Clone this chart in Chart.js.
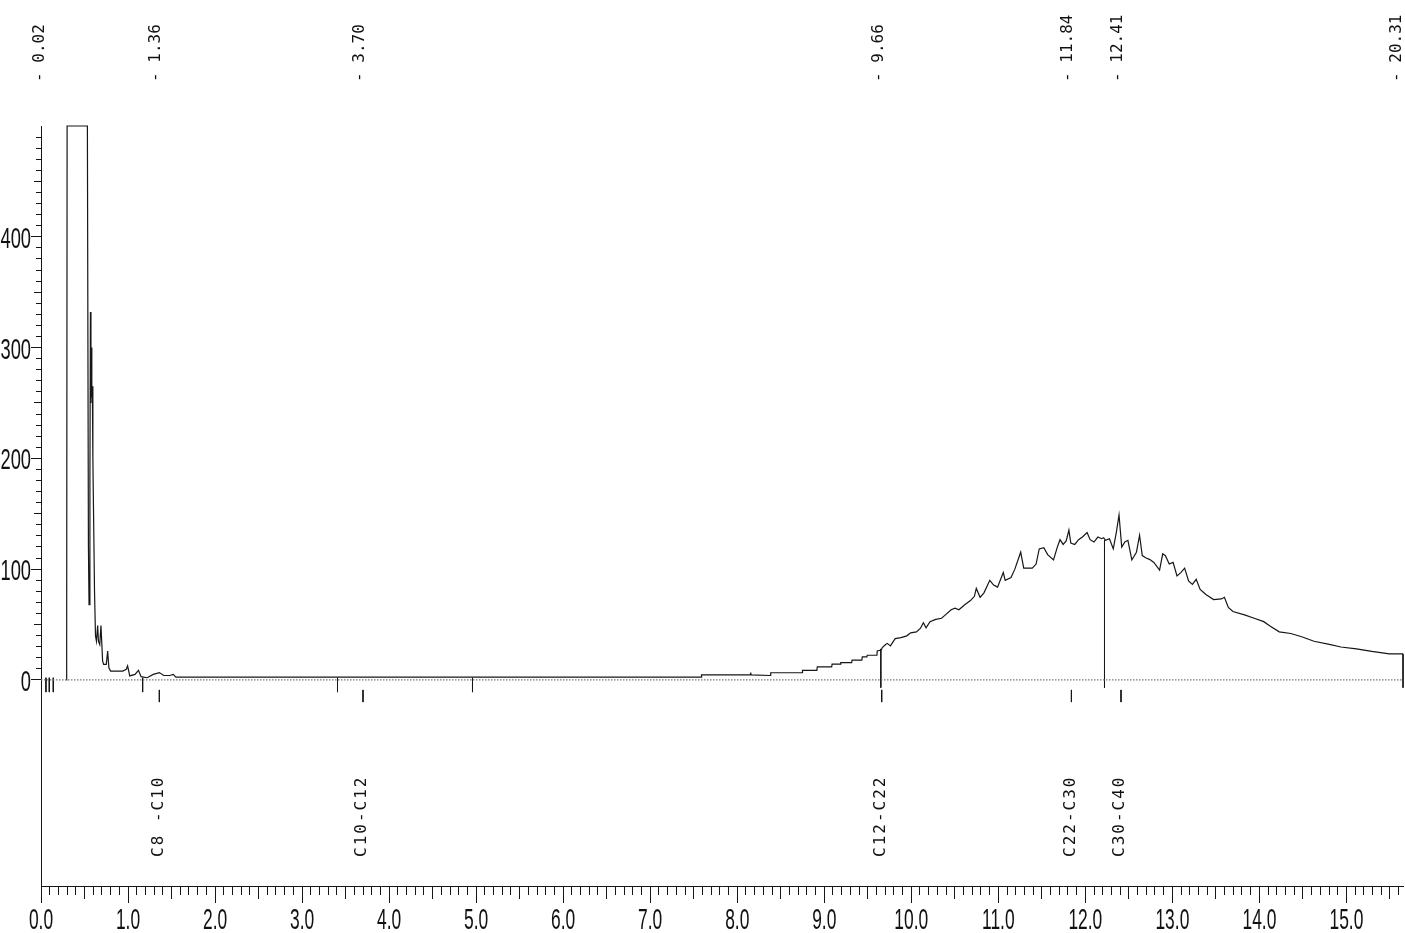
<!DOCTYPE html>
<html><head><meta charset="utf-8">
<script src="https://cdn.jsdelivr.net/npm/chart.js@4.4.1/dist/chart.umd.min.js"></script>
<style>html,body{margin:0;padding:0;background:#fff;}#wrap{width:1405px;height:933px;position:relative;}</style>
</head><body><div id="wrap"><canvas id="c"></canvas></div>
<script>
// ---------- data (retention time in min, signal) ----------
const traceTime = [0.29,0.295,0.30,0.533,0.545,0.552,0.562,0.568,0.574,0.578,0.584,0.590,0.596,0.604,0.615,0.626,0.637,0.651,0.66,0.675,0.689,0.708,0.72,0.75,0.766,0.78,0.80,0.94,0.98,0.995,1.02,1.08,1.12,1.15,1.22,1.29,1.36,1.41,1.48,1.52,1.55,
 7.585,7.59,8.15,8.155,8.16,8.38,8.385,8.745,8.75,8.915,8.92,9.085,9.09,9.185,9.19,9.315,9.32,9.432,9.437,9.49,9.494,9.605,9.609,9.655,9.667,9.705,9.724,9.76,9.815,9.882,9.948,9.993,10.059,10.104,10.139,10.17,10.215,10.281,10.348,10.392,10.458,10.503,10.547,10.614,10.68,10.725,10.747,10.791,10.835,10.902,10.946,10.991,11.057,11.079,11.146,11.19,11.257,11.292,11.39,11.434,11.47,11.523,11.567,11.634,11.678,11.709,11.745,11.78,11.811,11.833,11.878,11.922,11.966,12.02,12.055,12.099,12.144,12.188,12.21,12.232,12.277,12.321,12.357,12.387,12.418,12.454,12.489,12.534,12.587,12.623,12.654,12.698,12.742,12.787,12.853,12.889,12.92,12.964,13.008,13.053,13.097,13.141,13.186,13.23,13.274,13.319,13.385,13.474,13.563,13.598,13.643,13.696,13.829,13.94,14.05,14.117,14.228,14.361,14.494,14.627,14.804,14.937,15.115,15.292,15.492,15.65];
const traceSignal = [0,32,500,500,120,68,180,332,250,300,255,265,200,150,80,40,35,49,35,32,49,17,14,14,26,11,8,8,9.6,12.7,3.6,5,8.7,3,2,5,6.6,4,4,5,2.5,
 2.5,4.5,4.5,6.6,4.5,4,6.5,6.5,8.7,8.7,11.7,11.7,14.2,14.2,15.7,15.7,17.8,17.8,20.8,20.8,22.3,22.3,26.2,27,29.2,32,33,30.7,37.3,38.2,39.8,42.5,43.4,46.5,51.7,47.1,52.6,54.7,55.7,58.7,63.3,64.8,63.3,67.9,71.6,75.5,82.6,74.6,78.6,89.9,85.6,83.8,96.9,89.9,92.4,100,115.3,100.9,100.9,104.6,118.3,119.3,113.1,108.3,119.9,126.6,122.3,125.4,135.2,123.5,122.3,126.6,129,133,126.6,124.5,129,127.5,128.4,126,127.5,118.3,133.6,148.9,119.9,124.5,126,108.3,115.3,130.6,112.2,110.1,108.6,106.1,99.1,113.8,112.2,104.6,106.1,93.9,96.9,100.9,89.3,86.2,90.8,81.7,77.1,72.5,73.1,74.6,65.4,61.8,58.7,55.7,52.6,48.9,43.4,41.9,38.8,34.9,32.1,29.7,28.1,25.7,23.5,23.5];

const dropTimes = [9.65, 12.22, 15.65];        // integration drop lines
const dropTops = [28, 126, 23.5];
const dropBottom = -7;

const eventTimes = [0.057, 0.095, 0.141, 1.168, 3.407, 4.958];  // event marks
const eventTop = 2, eventBottom = -11;

const markerTimes = [0.02, 1.36, 3.70, 9.66, 11.84, 12.41, 20.31];   // top labels
const rangeTimes = [1.36, 3.70, 9.66, 11.84, 12.41];
const rangeLabels = ['C8 -C10', 'C10-C12', 'C12-C22', 'C22-C30', 'C30-C40'];
const markTop = -9, markBottom = -20;

const xTickLabels = ['0.0','1.0','2.0','3.0','4.0','5.0','6.0','7.0','8.0','9.0','10.0','11.0','12.0','13.0','14.0','15.0'];
const yTickLabels = ['0','100','200','300','400'];

const X_MIN = 0, X_MAX = 15.65, Y_MIN = -186, Y_MAX = 500;

// ---------- helpers ----------
const pts = (ts, vs) => ts.map((t, i) => ({x: t, y: vs[i]}));
function segs(times, top, bottom) {
  const out = [];
  times.forEach((t, i) => {
    const tp = Array.isArray(top) ? top[i] : top;
    out.push({x: t, y: tp}, {x: t, y: bottom}, {x: t, y: null});
  });
  return out;
}
const LINE = '#161616';

const labelPlugin = {
  id: 'labelPlugin',
  afterDraw(chart) {
    const {ctx} = chart;
    const x = chart.scales.x, y = chart.scales.y;
    ctx.save();
    ctx.fillStyle = '#111';
    ctx.font = '30px "Liberation Sans", Arial, sans-serif';
    ctx.textBaseline = 'alphabetic';
    yTickLabels.forEach(s => {
      const py = y.getPixelForValue(parseFloat(s));
      ctx.save();
      ctx.translate(31, py + 11);
      ctx.scale(0.61, 1);
      ctx.textAlign = 'right';
      ctx.fillText(s, 0, 0);
      ctx.restore();
    });
    xTickLabels.forEach(s => {
      const px = x.getPixelForValue(parseFloat(s));
      ctx.save();
      ctx.translate(px, 929);
      ctx.scale(0.58, 1);
      ctx.textAlign = 'center';
      ctx.fillText(s, 0, 0);
      ctx.restore();
    });
    ctx.font = '16px "DejaVu Sans Mono", monospace';
    if ('letterSpacing' in ctx) ctx.letterSpacing = '2px';
    ctx.textAlign = 'left';
    ctx.textBaseline = 'middle';
    rangeLabels.forEach((s, i) => {
      const px = x.getPixelForValue(rangeTimes[i]);
      ctx.save();
      ctx.translate(px - 1, 857);
      ctx.rotate(-Math.PI / 2);
      ctx.fillText(s, 0, 0);
      ctx.restore();
    });
    ctx.restore();
  }
};

const tickDashX = (c) => {
  const k = Math.round(c.tick.value * 10);
  if (k % 10 === 0) return [];
  if (k % 5 === 0) return [12, 40];
  return [8, 40];
};
const tickDashY = (c) => {
  const v = Math.round(c.tick.value);
  if (v % 100 === 0) return [];
  if (v % 50 === 0) return [0, 3, 7, 40];
  return [0, 5, 5, 40];
};

new Chart(document.getElementById('c'), {
  type: 'line',
  data: {
    datasets: [
      {data: [{x: X_MIN, y: 0}, {x: X_MAX, y: 0}], borderColor: '#777', borderWidth: 1.2, borderDash: [1.5, 1.5]},
      {data: pts(traceTime, traceSignal), borderColor: LINE, borderWidth: 1.2, clip: 3},
      {data: segs(dropTimes, dropTops, dropBottom), borderColor: LINE, borderWidth: 1, clip: 3},
      {data: segs(eventTimes, eventTop, eventBottom), borderColor: LINE, borderWidth: 1},
      {data: segs(rangeTimes, markTop, markBottom), borderColor: LINE, borderWidth: 1}
    ]
  },
  options: {
    responsive: true,
    maintainAspectRatio: false,
    animation: false,
    spanGaps: false,
    layout: {padding: {left: 0, right: 2, top: 0, bottom: 0}},
    elements: {point: {radius: 0}, line: {tension: 0, fill: false}},
    plugins: {legend: {display: false}, tooltip: {enabled: false}},
    scales: {
      x: {
        type: 'linear', position: 'bottom', min: X_MIN, max: X_MAX,
        afterBuildTicks: (s) => { const t = []; for (let k = 0; k * 0.1 <= X_MAX + 1e-9; k++) t.push({value: +(k * 0.1).toFixed(1)}); s.ticks = t; },
        ticks: {display: false},
        grid: {drawOnChartArea: false, drawTicks: true, tickLength: 17, tickColor: LINE, tickWidth: 1, tickBorderDash: tickDashX},
        border: {display: true, color: LINE, width: 1},
        afterFit: (s) => { s.height = 47; }
      },
      xTop: {
        type: 'linear', position: 'top', min: X_MIN, max: X_MAX,
        afterBuildTicks: (s) => { s.ticks = markerTimes.map(t => ({value: Math.min(t, 15.62)})); },
        ticks: {
          autoSkip: false, minRotation: 90, maxRotation: 90, padding: 44, labelOffset: 16, color: '#111',
          font: {family: '"DejaVu Sans Mono", monospace', size: 16},
          callback: (v, i) => '- ' + markerTimes[i].toFixed(2)
        },
        grid: {display: false, drawTicks: false, tickLength: 0},
        border: {display: false},
        afterFit: (s) => { s.height = 126; s.paddingLeft = 0; s.paddingRight = 0; }
      },
      y: {
        type: 'linear', position: 'left', min: Y_MIN, max: Y_MAX,
        afterBuildTicks: (s) => { const t = []; for (let v = 0; v <= 490; v += 10) t.push({value: v}); s.ticks = t; },
        ticks: {display: false},
        grid: {drawOnChartArea: false, drawTicks: true, tickLength: 10, tickColor: LINE, tickWidth: 1, tickBorderDash: tickDashY},
        border: {display: true, color: LINE, width: 1},
        afterFit: (s) => { s.width = 41; }
      }
    }
  },
  plugins: [labelPlugin]
});
</script></body></html>
